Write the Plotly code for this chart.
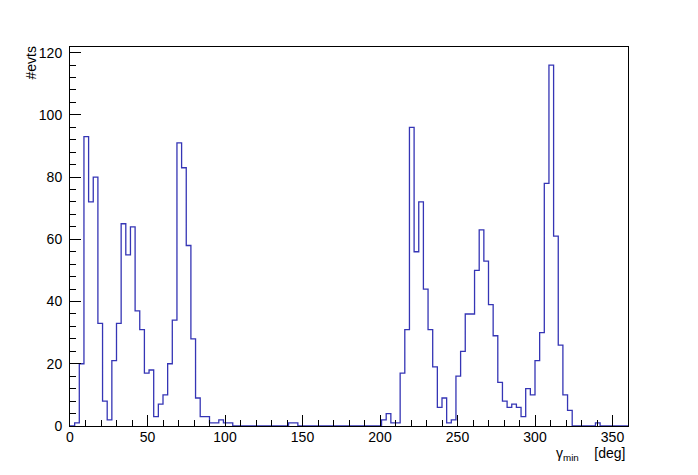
import plotly.graph_objects as go

bin_width = 3
n_bins = 120
counts = [0]*n_bins
filled = {
    1: 1, 2: 20, 3: 93, 4: 72, 5: 80, 6: 33, 7: 8, 8: 2, 9: 21, 10: 33,
    11: 65, 12: 55, 13: 64, 14: 37, 15: 31, 16: 17, 17: 18, 18: 3, 19: 7, 20: 10,
    21: 20, 22: 34, 23: 91, 24: 83, 25: 58, 26: 28, 27: 9, 28: 3, 29: 3, 30: 1,
    31: 1, 32: 2, 33: 1, 34: 1,
    47: 1, 48: 1,
    67: 2, 68: 4, 69: 1, 70: 1, 71: 17, 72: 31, 73: 96, 74: 56, 75: 72, 76: 44,
    77: 31, 78: 19, 79: 6, 80: 9, 81: 1, 82: 2, 83: 16, 84: 24, 85: 36, 86: 36,
    87: 50, 88: 63, 89: 53, 90: 39, 91: 29, 92: 14, 93: 8, 94: 6, 95: 7, 96: 6,
    97: 3, 98: 12, 99: 10, 100: 21, 101: 30, 102: 78, 103: 116, 104: 61, 105: 26,
    106: 10, 107: 5,
    113: 1,
}
for k, v in filled.items():
    counts[k] = v

edges = [i*bin_width for i in range(n_bins+1)]
xs = edges
ys = counts + [counts[-1]]

fig = go.Figure()
fig.add_trace(go.Scatter(x=xs, y=ys, mode="lines", line=dict(shape="hv", color="#3535b5", width=1.3),
                         hoverinfo="skip", showlegend=False))

font = dict(family="Liberation Sans, Arial, sans-serif", size=14, color="black")
ymax = max(counts)*1.05

fig.update_layout(
    width=698, height=475,
    margin=dict(l=70, r=70, t=47, b=49),
    paper_bgcolor="white", plot_bgcolor="white",
    font=font,
    xaxis=dict(range=[0, 360], showgrid=False, zeroline=False, showline=True, mirror=True,
               linecolor="black", linewidth=1, ticks="inside", ticklen=11, tickcolor="black",
               tick0=0, dtick=50, tickfont=font, ticklabelstandoff=-2,
               minor=dict(ticks="inside", ticklen=6, dtick=10, tickcolor="black", showgrid=False)),
    yaxis=dict(range=[0, ymax], showgrid=False, zeroline=False, showline=True, mirror=True,
               linecolor="black", linewidth=1, ticks="inside", ticklen=11, tickcolor="black",
               tick0=0, dtick=20, tickfont=font, ticklabelstandoff=4,
               minor=dict(ticks="inside", ticklen=6, dtick=4, tickcolor="black", showgrid=False)),
    annotations=[
        dict(text="#evts", xref="paper", yref="paper", x=0, y=1, xanchor="center", yanchor="top",
             xshift=-40, yshift=2, textangle=-90, showarrow=False, font=font),
        dict(text="γ<sub>min</sub>    [deg]", xref="paper", yref="paper", x=1, y=0, xanchor="right",
             yanchor="top", yshift=-17, showarrow=False, font=font),
    ],
)

fig.write_html("out.html")
